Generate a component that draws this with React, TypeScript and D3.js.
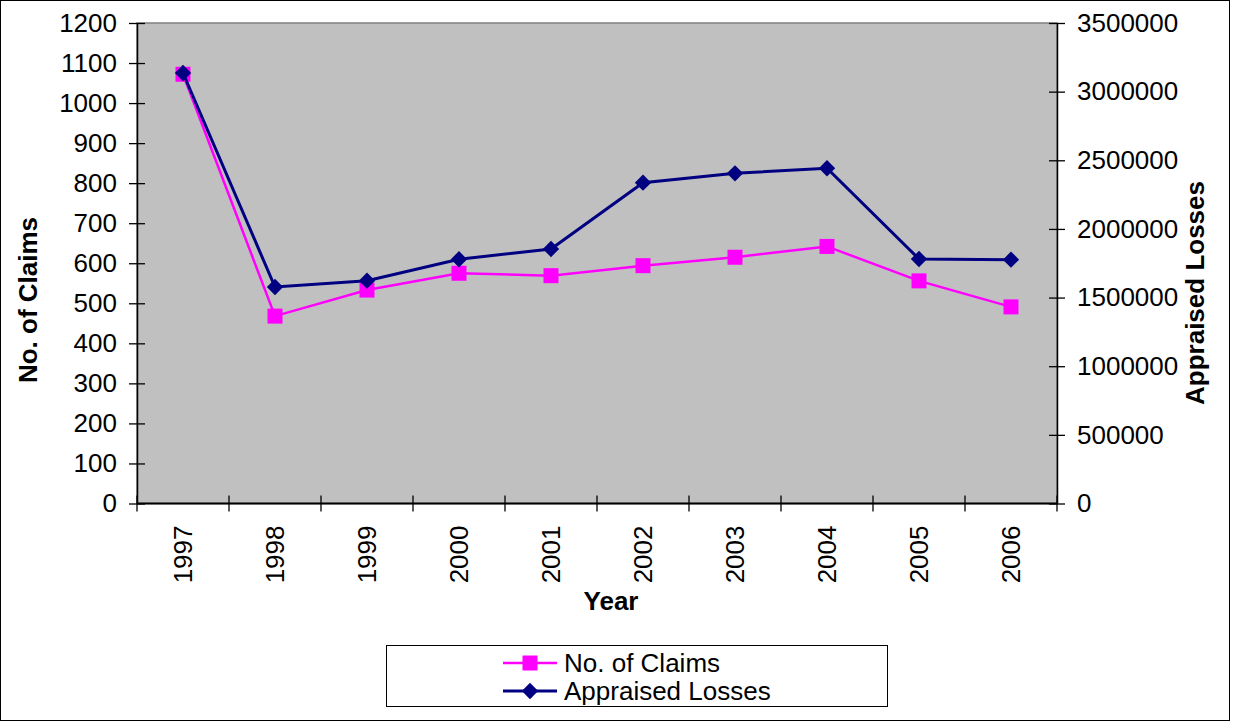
import React, { useEffect, useRef } from 'react';
import * as d3 from 'd3';

const years = ['1997', '1998', '1999', '2000', '2001', '2002', '2003', '2004', '2005', '2006'];
const claims = [1072, 468, 533, 575, 569, 594, 615, 642, 556, 491];
const losses = [3136000, 1577000, 1623000, 1779000, 1854000, 2337000, 2405000, 2442000, 1781000, 1776000];
const leftTicks = d3.range(0, 1201, 100);
const rightTicks = d3.range(0, 3500001, 500000);
const seriesNames = ['No. of Claims', 'Appraised Losses'];

const FONT = '"Liberation Sans", Arial, sans-serif';
const FS = 26;

export default function App() {
  const ref = useRef<SVGSVGElement | null>(null);

  useEffect(() => {
    const svg = d3.select(ref.current);
    svg.selectAll('*').remove();

    const plot = { left: 137, right: 1057, top: 23, bottom: 503.5 };

    // outer frame
    svg.append('rect')
      .attr('x', 0.5).attr('y', 0.5)
      .attr('width', 1229).attr('height', 720)
      .attr('fill', '#fff').attr('stroke', '#000').attr('stroke-width', 1);

    const x = d3.scaleBand().domain(years).range([plot.left, plot.right]);
    const yL = d3.scaleLinear().domain([0, 1200]).range([plot.bottom, plot.top]);
    const yR = d3.scaleLinear().domain([0, 3500000]).range([plot.bottom, plot.top]);

    // plot background
    svg.append('rect')
      .attr('x', plot.left).attr('y', plot.top)
      .attr('width', plot.right - plot.left).attr('height', plot.bottom - plot.top)
      .attr('fill', '#c0c0c0').attr('stroke', '#808080').attr('stroke-width', 1.5);

    // left axis
    const gl = svg.append('g').attr('transform', `translate(${plot.left},0)`)
      .call(d3.axisLeft(yL).tickValues(leftTicks).tickFormat(d3.format('d')).tickSize(8).tickPadding(12).tickSizeOuter(0));
    gl.selectAll('.tick line').attr('x1', 8).attr('stroke', '#000').attr('stroke-width', 1.3);
    gl.select('.domain').attr('stroke', '#000').attr('stroke-width', 1.5);
    gl.selectAll('text').attr('font-family', FONT).attr('font-size', FS).attr('fill', '#000');

    // right axis
    const gr = svg.append('g').attr('transform', `translate(${plot.right},0)`)
      .call(d3.axisRight(yR).tickValues(rightTicks).tickFormat(d3.format('d')).tickSize(8).tickPadding(12).tickSizeOuter(0));
    gr.selectAll('.tick line').attr('x1', -8).attr('stroke', '#000').attr('stroke-width', 1.3);
    gr.select('.domain').attr('stroke', '#000').attr('stroke-width', 1.5);
    gr.selectAll('text').attr('font-family', FONT).attr('font-size', FS).attr('fill', '#000');

    // x axis: ticks on category boundaries
    const gx = svg.append('g').attr('transform', `translate(0,${plot.bottom})`);
    gx.append('line')
      .attr('x1', plot.left).attr('x2', plot.right)
      .attr('stroke', '#000').attr('stroke-width', 1.8);
    const bounds = years.map((d) => x(d) as number).concat([plot.right]);
    gx.selectAll('.bt').data(bounds).enter().append('line')
      .attr('x1', (d) => d).attr('x2', (d) => d)
      .attr('y1', -8).attr('y2', 8)
      .attr('stroke', '#000').attr('stroke-width', 1.3);
    gx.selectAll('.yl').data(years).enter().append('text')
      .attr('transform', (d) => `translate(${(x(d) as number) + x.bandwidth() / 2},22) rotate(-90)`)
      .attr('text-anchor', 'end')
      .attr('dy', '0.35em')
      .attr('font-family', FONT).attr('font-size', FS)
      .text((d) => d);

    // axis titles
    svg.append('text')
      .attr('x', 611).attr('y', 610)
      .attr('text-anchor', 'middle')
      .attr('font-family', FONT).attr('font-size', FS).attr('font-weight', 'bold')
      .text('Year');
    svg.append('text')
      .attr('transform', 'translate(37,300) rotate(-90)')
      .attr('text-anchor', 'middle')
      .attr('font-family', FONT).attr('font-size', FS).attr('font-weight', 'bold')
      .text('No. of Claims');
    svg.append('text')
      .attr('transform', 'translate(1204,293) rotate(-90)')
      .attr('text-anchor', 'middle')
      .attr('font-family', FONT).attr('font-size', FS).attr('font-weight', 'bold')
      .text('Appraised Losses');

    const cx = (i: number) => (x(years[i]) as number) + x.bandwidth() / 2;

    // claims series
    const lineL = d3.line<number>().x((d, i) => cx(i)).y((d) => yL(d));
    svg.append('path').attr('d', lineL(claims))
      .attr('fill', 'none').attr('stroke', '#ff00ff').attr('stroke-width', 2.5);
    svg.selectAll('.sq').data(claims).enter().append('rect')
      .attr('x', (d, i) => cx(i) - 7.5).attr('y', (d) => yL(d) - 7.5)
      .attr('width', 15).attr('height', 15)
      .attr('fill', '#ff00ff');

    // losses series
    const lineR = d3.line<number>().x((d, i) => cx(i)).y((d) => yR(d));
    svg.append('path').attr('d', lineR(losses))
      .attr('fill', 'none').attr('stroke', '#000080').attr('stroke-width', 3);
    const diamond = d3.symbol().type(d3.symbolDiamond2).size(170);
    svg.selectAll('.dm').data(losses).enter().append('path')
      .attr('d', diamond)
      .attr('transform', (d, i) => `translate(${cx(i)},${yR(d)})`)
      .attr('fill', '#000080');

    // legend
    const lg = svg.append('g');
    lg.append('rect')
      .attr('x', 386.5).attr('y', 645.5).attr('width', 501).attr('height', 61)
      .attr('fill', '#fff').attr('stroke', '#000').attr('stroke-width', 1);
    const rows = [663, 691];
    seriesNames.forEach((name, i) => {
      const color = i === 0 ? '#ff00ff' : '#000080';
      lg.append('line')
        .attr('x1', 503).attr('x2', 557).attr('y1', rows[i]).attr('y2', rows[i])
        .attr('stroke', color).attr('stroke-width', i === 0 ? 2.5 : 3);
      if (i === 0) {
        lg.append('rect').attr('x', 522.5).attr('y', rows[i] - 7.5).attr('width', 15).attr('height', 15).attr('fill', color);
      } else {
        lg.append('path').attr('d', diamond).attr('transform', `translate(530,${rows[i]})`).attr('fill', color);
      }
      lg.append('text')
        .attr('x', 564).attr('y', rows[i]).attr('dy', '0.36em')
        .attr('font-family', FONT).attr('font-size', FS)
        .text(name);
    });
  }, []);

  return (
    <svg
      ref={ref}
      width={1238}
      height={723}
      style={{ position: 'absolute', left: 0, top: 0, background: '#fff' }}
    />
  );
}
